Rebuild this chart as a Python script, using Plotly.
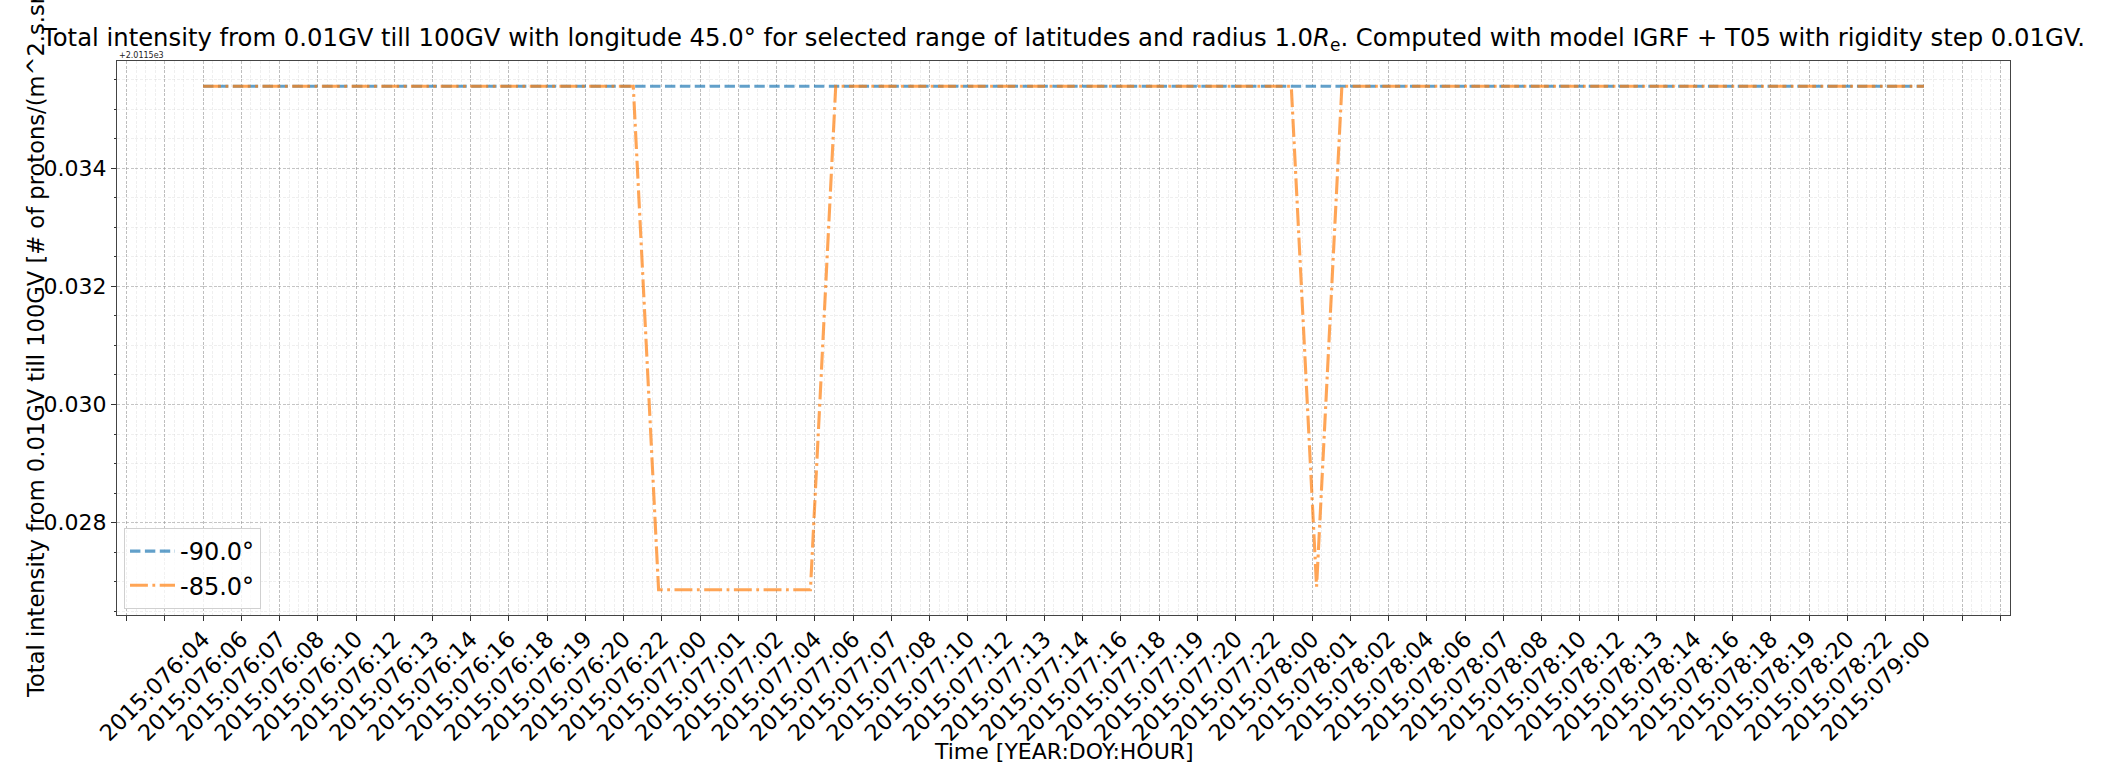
import plotly.graph_objects as go

# ---------------- data ----------------
OFFSET_TEXT = "+2.0115e3"
TITLE = ("Total intensity from 0.01GV till 100GV with longitude 45.0\u00b0 for selected range of latitudes "
         "and radius 1.0<i>R</i><sub>e</sub>. Computed with model IGRF + T05 with rigidity step 0.01GV.")
XLABEL = "Time [YEAR:DOY:HOUR]"
YLABEL = "Total intensity from 0.01GV till 100GV [# of protons/(m^2.s.sr)]"

# hourly samples, hours since 2015:076:04
hours = list(range(69))

T = 0.03539   # top level (offset +2.0115e3)
B = 0.026862  # bottom plateau
D = 0.026916  # single dip

lat_m90 = [T, T, T, T, T, T, T, T, T, T, T, T, T, T, T, T, T, T, T, T, T, T, T,
           T, T, T, T, T, T, T, T, T, T, T, T, T, T, T, T, T, T, T, T, T, T, T,
           T, T, T, T, T, T, T, T, T, T, T, T, T, T, T, T, T, T, T, T, T, T, T]
lat_m85 = [T, T, T, T, T, T, T, T, T, T, T, T, T, T, T, T, T, T,
           B, B, B, B, B, B, B,
           T, T, T, T, T, T, T, T, T, T, T, T, T, T, T, T, T, T, T,
           D,
           T, T, T, T, T, T, T, T, T, T, T, T, T, T, T, T, T, T, T, T, T, T, T, T]

series_names = ["-90.0\u00b0", "-85.0\u00b0"]

tick_labels = [
    "2015:076:04", "2015:076:06", "2015:076:07", "2015:076:08", "2015:076:10", "2015:076:12",
    "2015:076:13", "2015:076:14", "2015:076:16", "2015:076:18", "2015:076:19", "2015:076:20",
    "2015:076:22", "2015:077:00", "2015:077:01", "2015:077:02", "2015:077:04", "2015:077:06",
    "2015:077:07", "2015:077:08", "2015:077:10", "2015:077:12", "2015:077:13", "2015:077:14",
    "2015:077:16", "2015:077:18", "2015:077:19", "2015:077:20", "2015:077:22", "2015:078:00",
    "2015:078:01", "2015:078:02", "2015:078:04", "2015:078:06", "2015:078:07", "2015:078:08",
    "2015:078:10", "2015:078:12", "2015:078:13", "2015:078:14", "2015:078:16", "2015:078:18",
    "2015:078:19", "2015:078:20", "2015:078:22", "2015:079:00",
]

# ---------------- layout helpers ----------------
W, H = 2111, 784
L, R, TOP, BOT = 117, 2010, 61, 615
FONT = "DejaVu Sans"

x0, x1 = hours[0], hours[-1]
xpad = 0.05 * (x1 - x0)
allv = lat_m90 + lat_m85
ylo, yhi = min(allv), max(allv)
ypad = 0.05 * (yhi - ylo)

n_lab = len(tick_labels)
step = (x1 - x0) / (n_lab - 1)
tickvals = [x0 + i * step for i in range(-2, n_lab + 2)]
ticktext = [" ", " "] + tick_labels + [" ", " "]

def px_to_paper_x(px):
    return (px - L) / (R - L)

def px_to_paper_y(py):
    return (BOT - py) / (BOT - TOP)

fig = go.Figure()
lw = 3.1
fig.add_trace(go.Scatter(
    x=hours, y=lat_m90, mode="lines", name=series_names[0],
    line=dict(color="rgba(31,119,180,0.7)", width=lw, dash="10.4px,4.5px"),
))
fig.add_trace(go.Scatter(
    x=hours, y=lat_m85, mode="lines", name=series_names[1],
    line=dict(color="rgba(255,127,14,0.7)", width=lw, dash="17.9px,4.5px,2.8px,4.5px"),
))

grid_major = "rgba(150,150,150,0.55)"
grid_minor = "rgba(210,210,210,0.35)"

fig.update_layout(
    width=W, height=H,
    margin=dict(l=L, r=W - R, t=TOP, b=H - BOT, autoexpand=False),
    paper_bgcolor="white", plot_bgcolor="white",
    font=dict(family=FONT, size=22, color="black"),
    showlegend=True,
    legend=dict(
        x=px_to_paper_x(124), y=px_to_paper_y(609), xanchor="left", yanchor="bottom",
        bgcolor="rgba(255,255,255,0.8)", bordercolor="#d0d0d0", borderwidth=1,
        font=dict(family=FONT, size=24, color="black"),
        itemwidth=45, tracegroupgap=0,
    ),
    title=dict(
        text=TITLE, x=0.5, xref="paper", xanchor="center",
        y=1 - 37 / H, yref="container", yanchor="middle",
        font=dict(family=FONT, size=24.3, color="black"),
    ),
)

fig.update_xaxes(
    range=[x0 - xpad, x1 + xpad],
    tickmode="array", tickvals=tickvals, ticktext=ticktext,
    tickangle=-45, tickfont=dict(family=FONT, size=22.5, color="black"),
    ticklabelstandoff=-4,
    ticks="outside", ticklen=5, tickwidth=1, tickcolor="#333",
    showline=True, linecolor="#444", linewidth=1, mirror=True,
    showgrid=True, gridcolor=grid_major, griddash="3px,1.6px", gridwidth=0.8,
    zeroline=False,
    minor=dict(tickmode="linear", tick0=x0 - 2 * step, dtick=step / 4,
               ticks="", showgrid=True, gridcolor=grid_minor,
               griddash="3px,1.6px", gridwidth=0.6),
)
fig.update_yaxes(
    range=[ylo - ypad, yhi + ypad],
    tickmode="linear", tick0=0.028, dtick=0.002, tickformat=".3f",
    tickfont=dict(family=FONT, size=22, color="black"),
    ticks="outside", ticklen=5, tickwidth=1, tickcolor="#333",
    showline=True, linecolor="#444", linewidth=1, mirror=True,
    showgrid=True, gridcolor=grid_major, griddash="3px,1.6px", gridwidth=0.8,
    zeroline=False,
    minor=dict(tickmode="linear", tick0=0.028, dtick=0.0005,
               ticks="outside", ticklen=2.5, tickcolor="#333",
               showgrid=True, gridcolor=grid_minor, griddash="3px,1.6px", gridwidth=0.6),
)

fig.add_annotation(
    text=XLABEL, xref="paper", yref="paper",
    x=0.5, y=px_to_paper_y(751), xanchor="center", yanchor="middle",
    showarrow=False, font=dict(family=FONT, size=22, color="black"),
)
fig.add_annotation(
    text=YLABEL, xref="paper", yref="paper",
    x=px_to_paper_x(36), y=0.5, xanchor="center", yanchor="middle",
    textangle=-90, showarrow=False, font=dict(family=FONT, size=22.6, color="black"),
)
fig.add_annotation(
    text=OFFSET_TEXT, xref="paper", yref="paper",
    x=0, y=px_to_paper_y(62), xanchor="left", yanchor="bottom",
    showarrow=False, font=dict(family=FONT, size=8, color="#222"),
)

fig.write_html("out.html")
